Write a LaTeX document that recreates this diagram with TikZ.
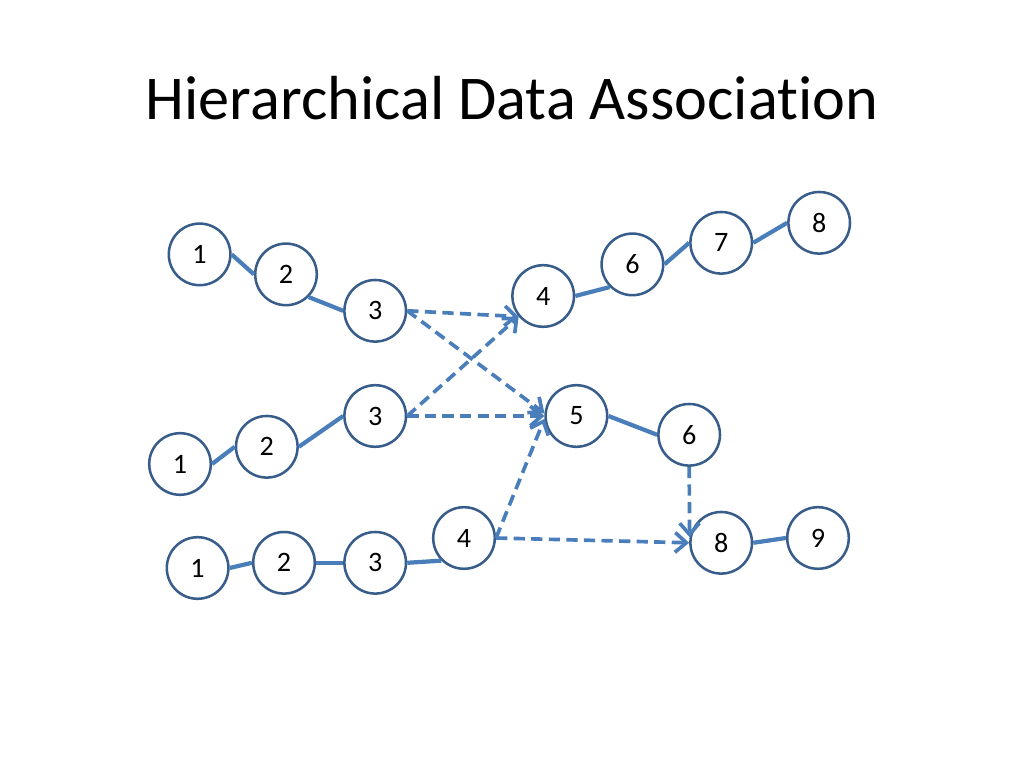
\documentclass[tikz,border=0pt]{standalone}
\usepackage{fontspec}
\setmainfont{Carlito}[Ligatures=NoCommon]
\usetikzlibrary{arrows.meta}
\definecolor{ringblue}{HTML}{385D8A}
\definecolor{linkblue}{HTML}{4A7EBB}
\tikzset{
	track/.style={circle,draw=ringblue,line width=1.8pt,fill=white,minimum size=1.54cm,inner sep=0pt,font=\fontsize{20pt}{24pt}\selectfont},
	link/.style={draw=linkblue,line width=3pt},
	assoc/.style={draw=linkblue,line width=2.6pt,dash pattern=on 8pt off 4.5pt,-{Straight Barb[length=8pt,width=14pt,line width=2.6pt]}}
}
\begin{document}
\begin{tikzpicture}
			\useasboundingbox (0,0) rectangle (25.6,19.2);
			\node (title) at (12.8,16.75) {\fontsize{44.3pt}{53pt}\selectfont Hierarchical Data Association};
			% top track
			\node[track] (t1) at (4.99,12.84) {1};
			\node[track] (t2) at (7.15,12.34) {2};
			\node[track] (t3) at (9.38,11.43) {3};
			\node[track] (t4) at (13.58,11.80) {4};
			\node[track] (t6) at (15.81,12.59) {6};
			\node[track] (t7) at (18.03,13.13) {7};
			\node[track] (t8) at (20.48,13.63) {8};
			% middle track
			\node[track] (m1) at (4.50,7.60) {1};
			\node[track] (m2) at (6.67,8.03) {2};
			\node[track] (m3) at (9.38,8.80) {3};
			\node[track] (m5) at (14.41,8.80) {5};
			\node[track] (m6) at (17.23,8.33) {6};
			\node[track] (m8) at (18.03,5.63) {8};
			\node[track] (m9) at (20.45,5.75) {9};
			% bottom track
			\node[track] (b1) at (4.94,5.00) {1};
			\node[track] (b2) at (7.10,5.13) {2};
			\node[track] (b3) at (9.38,5.13) {3};
			\node[track] (b4) at (11.60,5.75) {4};
			% tracklets
			\draw[link] (t1.east) -- (t2.west);
			\draw[link] (t2.south east) -- (t3.west);
			\draw[link] (t4.east) -- (t6.south west);
			\draw[link] (t6.east) -- (t7.west);
			\draw[link] (t7.east) -- (t8.west);
			\draw[link] (m1.east) -- (m2.west);
			\draw[link] (m2.east) -- (m3.west);
			\draw[link] (m5.east) -- (m6.west);
			\draw[link] (m8.east) -- (m9.west);
			\draw[link] (b1.east) -- (b2.west);
			\draw[link] (b2.east) -- (b3.west);
			\draw[link] (b3.east) -- (b4.south west);
			% associations
			\draw[assoc] (t3.east) -- (t4.220);
			\draw[assoc] (t3.east) -- (m5.175);
			\draw[assoc] (m3.east) -- (t4.220);
			\draw[assoc] (m3.east) -- (m5.west);
			\draw[assoc] (b4.east) -- (m5.185);
			\draw[assoc] (b4.east) -- (m8.west);
			\draw[assoc] (m6.south) -- (m8.170);
		\end{tikzpicture}
\end{document}
